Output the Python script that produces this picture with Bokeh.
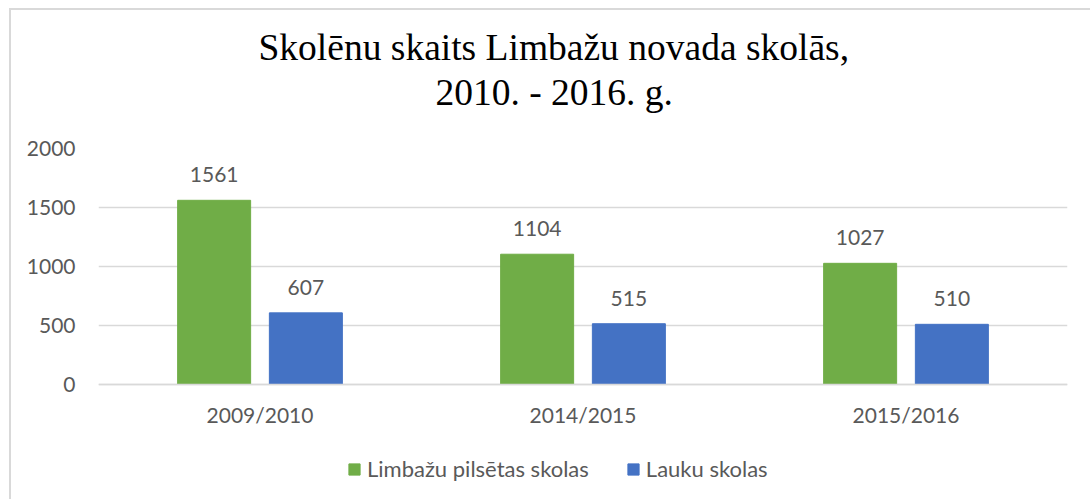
from bokeh.plotting import figure
from bokeh.models import (ColumnDataSource, FactorRange, FixedTicker, LabelSet,
                          Legend, LegendItem, Title, Range1d)
from bokeh.core.properties import value
from bokeh.transform import dodge
from bokeh.embed import file_html
from bokeh.resources import INLINE

# ---- data ----
categories = ["2009/2010", "2014/2015", "2015/2016"]
city_schools = [1561, 1104, 1027]
rural_schools = [607, 515, 510]
series_names = ["Limbažu pilsētas skolas", "Lauku skolas"]
y_ticks = [0, 500, 1000, 1500, 2000]
title_line1 = "Skolēnu skaits Limbažu novada skolās,"
title_line2 = "2010. - 2016. g."

GREEN = "#70AD47"
BLUE = "#4472C4"
GRID = "#D9D9D9"
TXT = "#595959"
FONT = "Lato"
FS = "21px"

# layout geometry (pixels)
W, H = 1090, 499
FRAME_LEFT, FRAME_RIGHT, FRAME_TOP = 98, 1067, 148
ZERO_PX = 384          # pixel row of the value axis' zero line
Y_MAX = y_ticks[-1]
y_start = -Y_MAX * (H - ZERO_PX) / (ZERO_PX - FRAME_TOP)

src = ColumnDataSource(dict(
    cat=categories,
    city=city_schools,
    rural=rural_schools,
    city_lbl=[str(v) for v in city_schools],
    rural_lbl=[str(v) for v in rural_schools],
))

p = figure(width=W, height=H, x_range=FactorRange(factors=categories),
           y_range=Range1d(y_start, Y_MAX), output_backend="svg",
           toolbar_location=None,
           min_border_left=FRAME_LEFT, min_border_right=W - FRAME_RIGHT,
           min_border_top=FRAME_TOP, min_border_bottom=0)

p.styles = {
    "background-image": "linear-gradient(#D9D9D9,#D9D9D9), linear-gradient(#D9D9D9,#D9D9D9)",
    "background-repeat": "no-repeat, no-repeat",
    "background-position": "9px 8px, 9px 8px",
    "background-size": "2px 100%, 100% 2px",
}

# title: two lines (p.title is the outer one)
p.title.text = title_line1
p.title.text_font = "Liberation Serif"
p.title.text_font_size = "37.5px"
p.title.text_font_style = "normal"
p.title.text_color = "#000000"
p.title.align = "left"
p.title.offset = 160
p.title.standoff = -68

t2 = Title(text=title_line2, text_font="Liberation Serif", text_font_size="37.5px",
           text_font_style="normal", text_color="#000000", align="left",
           offset=337, standoff=72)
p.add_layout(t2, "above")

p.outline_line_color = None
p.background_fill_color = "white"
p.border_fill_alpha = 0

bw = 0.226
off = 0.142
r1 = p.vbar(x=dodge("cat", -off, range=p.x_range), top="city", width=bw,
            source=src, fill_color=GREEN, line_color=GREEN)
r2 = p.vbar(x=dodge("cat", off, range=p.x_range), top="rural", width=bw,
            source=src, fill_color=BLUE, line_color=BLUE)

for col, lab, o in (("city", "city_lbl", -off), ("rural", "rural_lbl", off)):
    ls = LabelSet(x=dodge("cat", o, range=p.x_range), y=col, text=lab,
                  source=src, text_align="center", text_baseline="alphabetic",
                  y_offset=18, text_font=value(FONT), text_font_size=value(FS),
                  text_color=value(TXT))
    p.add_layout(ls)

# axes
p.xgrid.grid_line_color = None
p.ygrid.grid_line_color = GRID
p.ygrid.grid_line_width = 1.5
p.yaxis.ticker = FixedTicker(ticks=y_ticks)
p.yaxis.axis_line_color = None
p.yaxis.major_tick_line_color = None
p.yaxis.minor_tick_line_color = None
p.yaxis.major_label_standoff = 17
p.yaxis.major_label_text_font = FONT
p.yaxis.major_label_text_font_size = FS
p.yaxis.major_label_text_color = TXT

p.xaxis.fixed_location = 0
p.xaxis.axis_line_color = GRID
p.xaxis.axis_line_width = 1.5
p.xaxis.major_tick_line_color = None
p.xaxis.minor_tick_line_color = None
p.xaxis.major_label_standoff = 11
p.xaxis.major_label_text_font = FONT
p.xaxis.major_label_text_font_size = FS
p.xaxis.major_label_text_color = TXT

legend = Legend(items=[LegendItem(label=series_names[0], renderers=[r1]),
                       LegendItem(label=series_names[1], renderers=[r2])],
                location=(347 - FRAME_LEFT, 17), orientation="horizontal",
                glyph_width=14, glyph_height=14, label_standoff=6,
                spacing=37, padding=0, margin=0,
                border_line_color=None, background_fill_alpha=0,
                label_text_font=FONT, label_text_font_size="22px",
                label_text_color=TXT)
p.add_layout(legend, "center")

open("out.html", "w").write(file_html(p, INLINE))
